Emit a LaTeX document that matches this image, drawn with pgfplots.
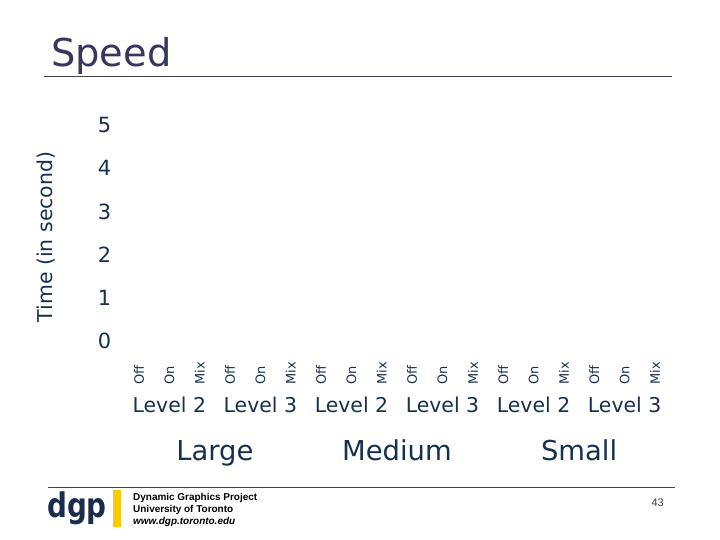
\documentclass[border=0pt]{standalone}
\usepackage{pgfplots}
\pgfplotsset{compat=1.18}
\usepackage{fontspec}
\setmainfont{DejaVu Sans}
\newfontfamily\arialf{Liberation Sans}
\definecolor{txt}{HTML}{17304F}
\definecolor{ttl}{HTML}{35375C}
\definecolor{rulec}{HTML}{404048}
\definecolor{dgpblue}{HTML}{1B2B4B}
\definecolor{dgpyellow}{HTML}{F7CB00}
\begin{document}
\begin{tikzpicture}[x=1bp,y=1bp]
\useasboundingbox (0,0) rectangle (720,540);
\fill[white] (0,0) rectangle (720,540);
% title
\node[anchor=base west, inner sep=0pt, text=ttl, font=\fontsize{38.5}{40}\selectfont] at (51,473) {Speed};
\draw[rulec, line width=1bp] (44,463) -- (672,463);
\begin{axis}[
  at={(139bp,199bp)}, anchor=origin,
  x=30.35bp, y=43.2bp,
  xmin=-0.8, xmax=17.8, ymin=0, ymax=5,
  axis line style={draw=none}, major tick length=0pt,
  ytick={0,1,2,3,4,5},
  xtick={0,1,...,17},
  xticklabels={Off,On,Mix,Off,On,Mix,Off,On,Mix,Off,On,Mix,Off,On,Mix,Off,On,Mix},
  /pgf/number format/assume math mode=true,
  yticklabel style={font=\fontsize{21}{21}\selectfont, text=txt},
  xticklabel style={font=\fontsize{13}{13}\selectfont, text=txt, yshift=-47bp, rotate=90, anchor=west},
  ylabel={Time (in second)},
  every axis y label/.style={at={(rel axis cs:0,0.5)}, xshift=-69bp, yshift=-4bp, rotate=90, anchor=center, font=\fontsize{20.5}{20}\selectfont, text=txt},
  clip=false,
]
\addplot[draw=none, forget plot] coordinates {(0,0) (17,0)};
\node[anchor=base, font=\fontsize{20.5}{21}\selectfont, text=txt] at (axis cs:1,-1.644) {Level 2};
\node[anchor=base, font=\fontsize{20.5}{21}\selectfont, text=txt] at (axis cs:4,-1.644) {Level 3};
\node[anchor=base, font=\fontsize{20.5}{21}\selectfont, text=txt] at (axis cs:7,-1.644) {Level 2};
\node[anchor=base, font=\fontsize{20.5}{21}\selectfont, text=txt] at (axis cs:10,-1.644) {Level 3};
\node[anchor=base, font=\fontsize{20.5}{21}\selectfont, text=txt] at (axis cs:13,-1.644) {Level 2};
\node[anchor=base, font=\fontsize{20.5}{21}\selectfont, text=txt] at (axis cs:16,-1.644) {Level 3};
\node[anchor=base, font=\fontsize{27.5}{28}\selectfont, text=txt] at (axis cs:2.5,-2.755) {Large};
\node[anchor=base, font=\fontsize{27.5}{28}\selectfont, text=txt] at (axis cs:8.5,-2.755) {Medium};
\node[anchor=base, font=\fontsize{27.5}{28}\selectfont, text=txt] at (axis cs:14.5,-2.755) {Small};
\end{axis}
% footer
\draw[rulec, line width=0.8bp] (48,53) -- (675,53);
\node[anchor=base west, inner sep=0pt, xscale=0.82, text=dgpblue, font=\bfseries\fontsize{34}{34}\selectfont] at (47,22) {dgp};
\fill[dgpyellow] (113,13) rectangle (121,50);
\node[anchor=base west, inner sep=0pt, text=black, font=\arialf\bfseries\fontsize{10}{10}\selectfont] at (133,39) {Dynamic Graphics Project};
\node[anchor=base west, inner sep=0pt, text=black, font=\arialf\bfseries\fontsize{10}{10}\selectfont] at (133,27) {University of Toronto};
\node[anchor=base west, inner sep=0pt, text=black, font=\arialf\bfseries\itshape\fontsize{10}{10}\selectfont] at (133,15) {www.dgp.toronto.edu};
\node[anchor=base east, inner sep=0pt, text=rulec, font=\arialf\fontsize{11}{11}\selectfont] at (664,33) {43};
\end{tikzpicture}
\end{document}
